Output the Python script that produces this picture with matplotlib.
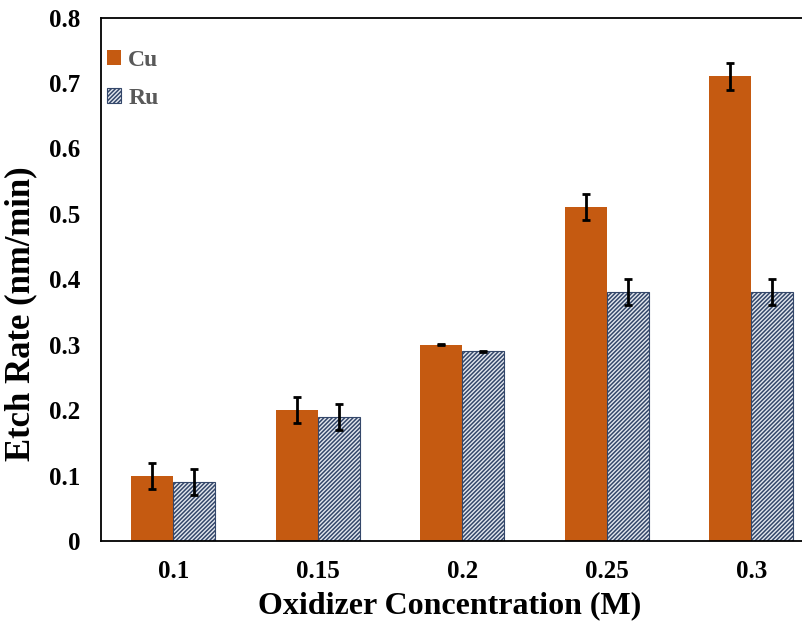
import numpy as np
import matplotlib.pyplot as plt

concentrations = ["0.1", "0.15", "0.2", "0.25", "0.3"]
cu_rate = [0.10, 0.20, 0.30, 0.51, 0.71]
cu_err = [0.02, 0.02, 0.001, 0.02, 0.02]
ru_rate = [0.09, 0.19, 0.29, 0.38, 0.38]
ru_err = [0.02, 0.02, 0.001, 0.02, 0.02]

plt.rcParams["font.family"] = ["Liberation Serif", "DejaVu Serif"]
plt.rcParams["font.weight"] = "bold"
plt.rcParams["hatch.linewidth"] = 1.1

fig = plt.figure(figsize=(8.02, 6.28), dpi=100)
ax = fig.add_axes([0.126, 0.1385, 0.901, 0.8335])

x = np.arange(len(concentrations))
w = 0.29

ax.bar(x - w / 2, cu_rate, w, color="#C55A11", label="Cu", zorder=2)
ax.bar(x + w / 2, ru_rate, w, facecolor="#E4E8EF", edgecolor="#34476A",
       hatch="////////", linewidth=0.8, label="Ru", zorder=2)

ax.errorbar(x - w / 2, cu_rate, yerr=cu_err, fmt="none", ecolor="black",
            elinewidth=2, capsize=3, capthick=2, zorder=3)
ax.errorbar(x + w / 2, ru_rate, yerr=ru_err, fmt="none", ecolor="black",
            elinewidth=2, capsize=3, capthick=2, zorder=3)

ax.set_xlim(-0.5, 4.5)
ax.set_ylim(0, 0.8)
ax.set_xticks(x)
ax.set_xticklabels(concentrations)
ax.set_yticks(np.arange(0, 0.81, 0.1))
ax.set_yticklabels(["0", "0.1", "0.2", "0.3", "0.4", "0.5", "0.6", "0.7", "0.8"])
ax.tick_params(axis="both", length=0, labelsize=18)
ax.tick_params(axis="x", pad=14)
ax.tick_params(axis="y", pad=15)

for s in ax.spines.values():
    s.set_linewidth(1.3)
    s.set_color("black")

ax.set_xlabel("Oxidizer Concentration (M)", fontsize=23, fontweight="bold")
ax.set_ylabel("Etch Rate (nm/min)", fontsize=25, fontweight="bold")
ax.xaxis.set_label_coords(0.483, -0.095)
ax.yaxis.set_label_coords(-0.088, 0.435)

leg = ax.legend(loc="upper left", frameon=False, fontsize=17, handlelength=0.6,
                handleheight=0.6, handletextpad=0.3, labelspacing=0.75,
                borderaxespad=0.0, bbox_to_anchor=(-0.005, 0.957))
for t in leg.get_texts():
    t.set_color("#595959")

fig.savefig("out.png", dpi=100)
